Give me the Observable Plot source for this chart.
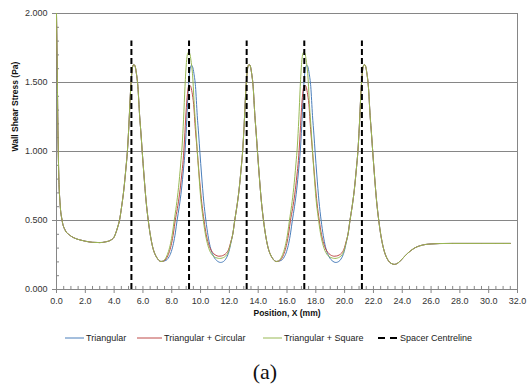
<!DOCTYPE html>
<html>
<head>
<meta charset="utf-8">
<script src="https://cdn.jsdelivr.net/npm/d3@7"></script>
<script src="https://cdn.jsdelivr.net/npm/@observablehq/plot@0.6"></script>
<style>
  html, body { margin: 0; padding: 0; background: #fff; }
  body { width: 530px; height: 387px; position: relative; overflow: hidden; font-family: "Liberation Sans", Arial, sans-serif; }
  #chart { position: absolute; left: 0; top: 0; }
  #legend { position: absolute; left: 0; top: 331px; width: 530px; height: 14px; font-size: 9px; color: #222; }
  #legend .item { position: absolute; top: 0; height: 14px; display: flex; align-items: center; white-space: nowrap; }
  #legend svg { margin-right: 2px; }
  #caption { position: absolute; left: 0; top: 360px; width: 530px; text-align: center; font-family: "Liberation Serif", "Times New Roman", serif; font-size: 22px; line-height: 24px; color: #111; }
</style>
</head>
<body>
<div id="chart"></div>
<div id="legend"></div>
<div id="caption">(a)</div>
<script>
// ---------------- data ----------------
const seriesNames = ["Triangular", "Triangular + Circular", "Triangular + Square"];
const seriesColors = ["#4a7ebb", "#be4b48", "#98b954"];
const spacerName = "Spacer Centreline";
const spacerPositions = [5.2, 9.2, 13.2, 17.2, 21.2];
const spacerTop = 1.8;
const xTicks = [0, 2, 4, 6, 8, 10, 12, 14, 16, 18, 20, 22, 24, 26, 28, 30, 32];
const yTicks = [0, 0.5, 1.0, 1.5, 2.0];
const xLabel = "Position, X (mm)";
const yLabel = "Wall Shear Stress (Pa)";

// [position mm, wall shear stress Pa]
const commonHead = [[0,2.0],[0.05,1.6],[0.1,1.15],[0.16,0.82],[0.25,0.62],[0.39,0.5],[0.6,0.43],[0.9,0.395],[1.2,0.375],[1.6,0.36],[2.0,0.35],[2.5,0.342],[3.0,0.34],[3.4,0.345],[3.8,0.36],[4.0,0.38],[4.15,0.42],[4.27,0.46],[4.37,0.5],[4.52,0.6],[4.67,0.72],[4.82,0.88],[4.92,1.0],[5.02,1.18],[5.12,1.40],[5.22,1.56],[5.30,1.62],[5.37,1.63],[5.45,1.62],[5.54,1.57],[5.65,1.47],[5.77,1.26],[5.87,1.12],[5.95,1.0],[6.07,0.83],[6.22,0.64],[6.37,0.5],[6.52,0.39],[6.67,0.31],[6.82,0.26],[6.97,0.23],[7.12,0.21],[7.25,0.203],[7.4,0.205]];

const triangularMid1 = [[7.52,0.208],[7.67,0.216],[7.82,0.238],[7.97,0.275],[8.12,0.335],[8.25,0.41],[8.37,0.5],[8.52,0.6],[8.67,0.72],[8.82,0.88],[8.92,1.0],[9.02,1.18],[9.12,1.40],[9.22,1.555],[9.30,1.613],[9.37,1.625],[9.45,1.613],[9.54,1.565],[9.65,1.47],[9.77,1.26],[9.87,1.12],[9.95,1.0],[10.07,0.83],[10.22,0.64],[10.37,0.5],[10.52,0.39],[10.67,0.31],[10.82,0.26],[10.97,0.228],[11.12,0.21],[11.27,0.199],[11.39,0.196],[11.52,0.199],[11.67,0.21],[11.82,0.234],[11.97,0.275],[12.1,0.335]];
const circularMid1 = [[7.54,0.213],[7.69,0.236],[7.84,0.275],[7.99,0.335],[8.12,0.41],[8.24,0.5],[8.39,0.587],[8.54,0.691],[8.69,0.829],[8.79,0.934],[8.89,1.09],[8.99,1.28],[9.09,1.419],[9.17,1.471],[9.24,1.48],[9.32,1.471],[9.41,1.428],[9.52,1.341],[9.64,1.159],[9.74,1.038],[9.82,0.934],[9.94,0.786],[10.09,0.621],[10.24,0.5],[10.39,0.40],[10.54,0.335],[10.69,0.293],[10.84,0.268],[11.0,0.252],[11.15,0.244],[11.27,0.241],[11.45,0.243],[11.62,0.25],[11.8,0.265],[11.95,0.292],[12.1,0.345]];
const squareMid1 = [[7.47,0.212],[7.62,0.235],[7.77,0.275],[7.92,0.335],[8.05,0.41],[8.17,0.5],[8.32,0.608],[8.47,0.738],[8.62,0.91],[8.72,1.04],[8.82,1.234],[8.92,1.472],[9.02,1.645],[9.10,1.71],[9.17,1.72],[9.25,1.71],[9.34,1.656],[9.45,1.548],[9.57,1.321],[9.67,1.17],[9.75,1.04],[9.87,0.856],[10.02,0.651],[10.17,0.52],[10.32,0.41],[10.47,0.335],[10.62,0.285],[10.77,0.255],[10.95,0.237],[11.15,0.228],[11.32,0.225],[11.5,0.228],[11.67,0.236],[11.82,0.252],[11.97,0.285],[12.1,0.34]];

const commonPeak3 = [[12.25,0.41],[12.37,0.5],[12.52,0.6],[12.67,0.72],[12.82,0.88],[12.92,1.0],[13.02,1.18],[13.12,1.40],[13.22,1.56],[13.30,1.62],[13.37,1.63],[13.45,1.62],[13.54,1.57],[13.65,1.47],[13.77,1.26],[13.87,1.12],[13.95,1.0],[14.07,0.83],[14.22,0.64],[14.37,0.5],[14.52,0.39],[14.67,0.31],[14.82,0.26],[14.97,0.23],[15.12,0.21],[15.25,0.203],[15.4,0.205]];

const triangularMid2 = [[15.52,0.208],[15.67,0.216],[15.82,0.238],[15.97,0.275],[16.12,0.335],[16.25,0.41],[16.37,0.5],[16.52,0.6],[16.67,0.72],[16.82,0.88],[16.92,1.0],[17.02,1.18],[17.12,1.40],[17.22,1.555],[17.30,1.613],[17.37,1.625],[17.45,1.613],[17.54,1.565],[17.65,1.47],[17.77,1.26],[17.87,1.12],[17.95,1.0],[18.07,0.83],[18.22,0.64],[18.37,0.5],[18.52,0.39],[18.67,0.31],[18.82,0.26],[18.97,0.228],[19.12,0.21],[19.27,0.199],[19.39,0.196],[19.52,0.199],[19.67,0.21],[19.82,0.234],[19.97,0.275],[20.1,0.335]];
const circularMid2 = [[15.54,0.213],[15.69,0.236],[15.84,0.275],[15.99,0.335],[16.12,0.41],[16.24,0.5],[16.39,0.587],[16.54,0.691],[16.69,0.829],[16.79,0.934],[16.89,1.09],[16.99,1.28],[17.09,1.419],[17.17,1.471],[17.24,1.48],[17.32,1.471],[17.41,1.428],[17.52,1.341],[17.64,1.159],[17.74,1.038],[17.82,0.934],[17.94,0.786],[18.09,0.621],[18.24,0.5],[18.39,0.40],[18.54,0.335],[18.69,0.293],[18.84,0.268],[19.0,0.252],[19.15,0.244],[19.27,0.241],[19.45,0.243],[19.62,0.25],[19.8,0.265],[19.95,0.292],[20.1,0.345]];
const squareMid2 = [[15.47,0.212],[15.62,0.235],[15.77,0.275],[15.92,0.335],[16.05,0.41],[16.17,0.5],[16.32,0.608],[16.47,0.738],[16.62,0.91],[16.72,1.04],[16.82,1.234],[16.92,1.472],[17.02,1.645],[17.10,1.71],[17.17,1.72],[17.25,1.71],[17.34,1.656],[17.45,1.548],[17.57,1.321],[17.67,1.17],[17.75,1.04],[17.87,0.856],[18.02,0.651],[18.17,0.52],[18.32,0.41],[18.47,0.335],[18.62,0.285],[18.77,0.255],[18.95,0.237],[19.15,0.228],[19.32,0.225],[19.5,0.228],[19.67,0.236],[19.82,0.252],[19.97,0.285],[20.1,0.34]];

const commonTail = [[20.25,0.41],[20.37,0.5],[20.52,0.6],[20.67,0.72],[20.82,0.88],[20.92,1.0],[21.02,1.18],[21.12,1.40],[21.22,1.56],[21.30,1.62],[21.37,1.63],[21.45,1.62],[21.54,1.57],[21.65,1.47],[21.77,1.26],[21.87,1.12],[21.95,1.0],[22.07,0.83],[22.22,0.64],[22.37,0.5],[22.52,0.39],[22.67,0.31],[22.82,0.255],[22.97,0.22],[23.12,0.198],[23.3,0.186],[23.45,0.182],[23.6,0.186],[23.8,0.2],[24.0,0.222],[24.3,0.255],[24.6,0.282],[24.9,0.303],[25.2,0.316],[25.6,0.326],[26.0,0.33],[26.6,0.333],[27.5,0.334],[28.5,0.334],[29.5,0.334],[30.5,0.334],[31.5,0.334]];

// ---------------- build table ----------------
const seriesPoints = [
  [...commonHead, ...triangularMid1, ...commonPeak3, ...triangularMid2, ...commonTail],
  [...commonHead, ...circularMid1, ...commonPeak3, ...circularMid2, ...commonTail],
  [...commonHead, ...squareMid1, ...commonPeak3, ...squareMid2, ...commonTail]
];
const rows = seriesPoints.flatMap((pts, i) => pts.map(([x, y]) => ({x, y, series: seriesNames[i]})));

const gray = "#868686";
const xMinor = d3.range(0, 32.001, 0.5);
const yMinor = d3.range(0, 2.001, 0.1);

const chart = Plot.plot({
  width: 530,
  height: 322,
  marginLeft: 56,
  marginRight: 13,
  marginTop: 13,
  marginBottom: 33,
  style: {fontFamily: "'Liberation Sans', Arial, sans-serif", fontSize: "9px", color: "#333", background: "#fff", overflow: "visible"},
  x: {domain: [0, 32]},
  y: {domain: [0, 2]},
  color: {domain: seriesNames, range: seriesColors},
  marks: [
    Plot.ruleY(yTicks.filter(d => d > 0), {stroke: gray, strokeWidth: 1}),
    Plot.ruleX([32], {stroke: gray, strokeWidth: 1}),
    Plot.ruleX([0], {stroke: gray, strokeWidth: 1}),
    Plot.ruleY([0], {stroke: gray, strokeWidth: 1}),
    Plot.ruleX(xMinor, {x: d => d, y1: 0, y2: 0.022, stroke: gray}),
    Plot.ruleY(yMinor, {y: d => d, x1: 0, x2: 0.21, stroke: gray}),
    Plot.axisX(xTicks, {tickSize: 4, tickPadding: 4, stroke: gray, fill: "#333", tickFormat: d => d.toFixed(1), label: null, fontSize: 9}),
    Plot.axisY(yTicks, {tickSize: 4, tickPadding: 5, stroke: gray, fill: "#333", tickFormat: d => d.toFixed(3), label: null, fontSize: 9}),
    Plot.line(rows, {x: "x", y: "y", z: "series", stroke: "series", strokeWidth: 1, curve: "monotone-x", clip: true}),
    Plot.ruleX(spacerPositions, {x: d => d, y1: 0, y2: spacerTop, stroke: "#000", strokeWidth: 2, strokeDasharray: "6,3"}),
    Plot.text([xLabel], {frameAnchor: "bottom", dy: 26, text: d => d, fontWeight: "bold", fontSize: 8.5, fill: "#111"}),
    Plot.text([yLabel], {frameAnchor: "left", dx: -41, rotate: -90, text: d => d, fontWeight: "bold", fontSize: 8.5, fill: "#111"})
  ]
});
document.getElementById("chart").appendChild(chart);

// ---------------- legend ----------------
const legend = document.getElementById("legend");
const legendItems = [
  {name: seriesNames[0], color: seriesColors[0], dash: null, left: 65, w: 19},
  {name: seriesNames[1], color: seriesColors[1], dash: null, left: 137, w: 25},
  {name: seriesNames[2], color: seriesColors[2], dash: null, left: 263, w: 19},
  {name: spacerName, color: "#000", dash: "7,5", left: 378, w: 20}
];
for (const it of legendItems) {
  const div = document.createElement("div");
  div.className = "item";
  div.style.left = it.left + "px";
  const sw = it.dash ? 2 : 1;
  div.innerHTML = `<svg width="${it.w}" height="6"><line x1="0" y1="3" x2="${it.w}" y2="3" stroke="${it.color}" stroke-width="${sw}" ${it.dash ? `stroke-dasharray="${it.dash}"` : ""}/></svg><span>${it.name}</span>`;
  legend.appendChild(div);
}
</script>
</body>
</html>
